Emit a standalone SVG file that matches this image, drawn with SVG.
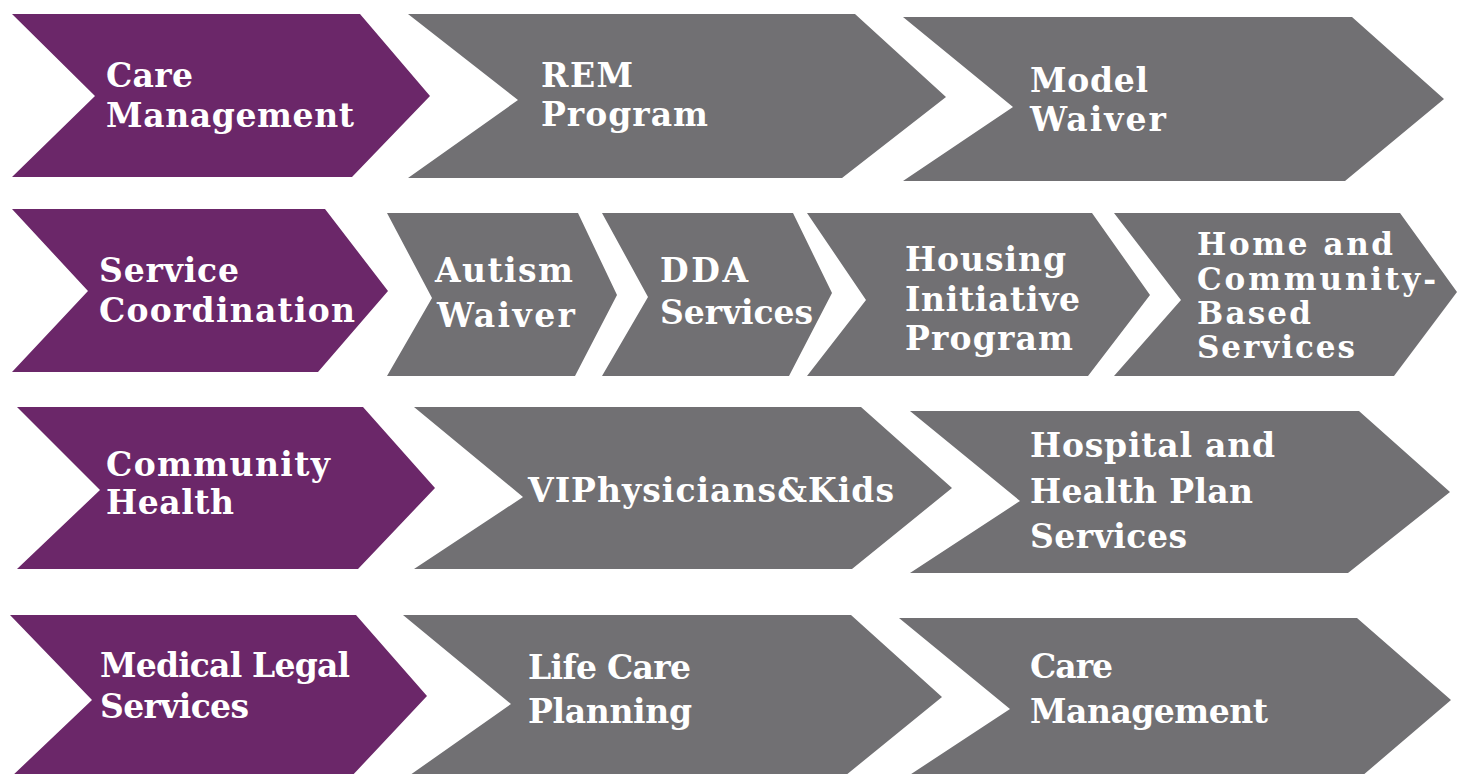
<svg xmlns="http://www.w3.org/2000/svg" width="1460" height="774" viewBox="0 0 1460 774">
<style>
.p{fill:#6b2769}
.g{fill:#717073}
text{font-family:"DejaVu Serif","Liberation Serif",serif;font-weight:bold;font-size:33px;fill:#ffffff}
.s{font-size:31px}
</style>
<rect width="1460" height="774" fill="#ffffff"/>
<g id="care-management">
<polygon class="p" points="12,14 360,14 430,96 352,177 12,177 95,96"/>
<text x="106" y="87" textLength="87">Care</text><text x="106" y="127" textLength="248">Management</text>
</g>
<g id="rem-program">
<polygon class="g" points="408,14 855,14 946,97 842,178 408,178 518,100"/>
<text x="541" y="87" textLength="92">REM</text><text x="541" y="126" textLength="167">Program</text>
</g>
<g id="model-waiver">
<polygon class="g" points="903,17 1352,17 1444,99 1345,181 903,181 1013,107"/>
<text x="1030" y="92" textLength="118">Model</text><text x="1030" y="131" textLength="136">Waiver</text>
</g>
<g id="service-coordination">
<polygon class="p" points="12,209 325,209 388,291 318,372 12,372 88,291"/>
<text x="99" y="282" textLength="140">Service</text><text x="99" y="322" textLength="256">Coordination</text>
</g>
<g id="autism-waiver">
<polygon class="g" points="387,213 578,213 617,295 575,376 387,376 432,298"/>
<text x="435" y="282" textLength="138">Autism</text><text x="437" y="327" textLength="138">Waiver</text>
</g>
<g id="dda-services">
<polygon class="g" points="602,213 793,213 832,293 789,376 602,376 648,297"/>
<text x="660" y="282" textLength="88">DDA</text><text x="660" y="324" textLength="153">Services</text>
</g>
<g id="housing-initiative">
<polygon class="g" points="807,213 1092,213 1150,295 1088,376 807,376 866,300"/>
<text x="905" y="271" textLength="161">Housing</text><text x="905" y="311" textLength="175">Initiative</text><text x="905" y="350" textLength="168">Program</text>
</g>
<g id="hcbs">
<polygon class="g" points="1114,213 1400,213 1457,292 1394,376 1114,376 1181,300"/>
<text class="s" x="1197" y="255" textLength="196">Home and</text><text class="s" x="1197" y="290" textLength="239">Community-</text><text class="s" x="1197" y="324" textLength="114">Based</text><text class="s" x="1197" y="358" textLength="158">Services</text>
</g>
<g id="community-health">
<polygon class="p" points="17,407 363,407 435,488 358,569 17,569 100,490"/>
<text x="106" y="476" textLength="224">Community</text><text x="106" y="514" textLength="128">Health</text>
</g>
<g id="viphysicians">
<polygon class="g" points="414,407 861,407 952,488 852,569 414,569 523,497"/>
<text x="528" y="502" textLength="366">VIPhysicians&amp;Kids</text>
</g>
<g id="hospital-health-plan">
<polygon class="g" points="910,411 1359,411 1450,492 1348,573 910,573 1020,501"/>
<text x="1030" y="457" textLength="245">Hospital and</text><text x="1030" y="503" textLength="223">Health Plan</text><text x="1030" y="548" textLength="157">Services</text>
</g>
<g id="medical-legal">
<polygon class="p" points="10,615 356,615 427,696 350,778 10,778 92,700"/>
<text x="100" y="677" textLength="250">Medical Legal</text><text x="100" y="718" textLength="149">Services</text>
</g>
<g id="life-care-planning">
<polygon class="g" points="403,615 851,615 942,697 840,780 403,780 511,704"/>
<text x="528" y="679" textLength="163">Life Care</text><text x="528" y="723" textLength="164">Planning</text>
</g>
<g id="care-management-2">
<polygon class="g" points="899,618 1357,618 1451,700 1355,782 899,782 1010,709"/>
<text x="1030" y="678" textLength="83">Care</text><text x="1030" y="723" textLength="238">Management</text>
</g>
</svg>
